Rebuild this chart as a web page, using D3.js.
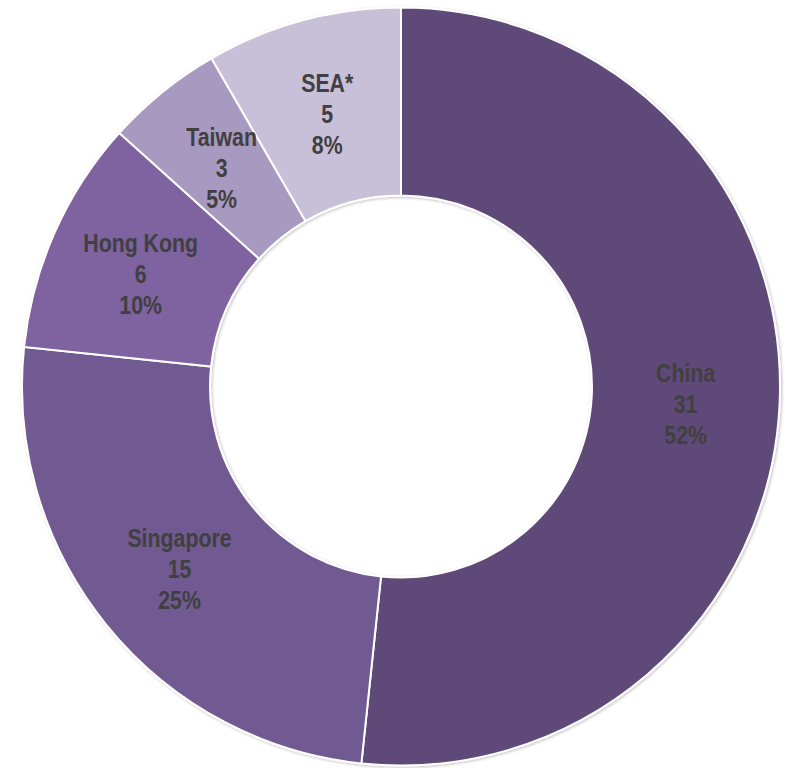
<!DOCTYPE html>
<html>
<head>
<meta charset="utf-8">
<script src="https://cdn.jsdelivr.net/npm/d3@7"></script>
<style>
  body { margin: 0; background: #fff; }
  svg text { font-family: "Liberation Sans", Arial, sans-serif; font-weight: bold; fill: #404040; }
</style>
</head>
<body>
<script>
var categories = ["China", "Singapore", "Hong Kong", "Taiwan", "SEA*"];
var values = [31, 15, 6, 3, 5];
var percents = ["52%", "25%", "10%", "5%", "8%"];
var colors = ["#5e4a78", "#715a92", "#7f62a0", "#a899c0", "#c8bfd8"];

var width = 785;
var height = 768;
var cx = 401, cy = 386.5;
var outerR = 379, innerR = 191;

var svg = d3.select("body").append("svg")
  .attr("width", width)
  .attr("height", height);

// faint shadow round the ring edges
var defs = svg.append("defs");
defs.append("filter")
    .attr("id", "shade")
    .attr("x", "-5%").attr("y", "-5%")
    .attr("width", "110%").attr("height", "110%")
  .append("feDropShadow")
    .attr("dx", 1).attr("dy", 1)
    .attr("stdDeviation", 1.5)
    .attr("flood-color", "#000")
    .attr("flood-opacity", 0.25);

var data = categories.map(function(c, i) {
  return { name: c, value: values[i], pct: percents[i], color: colors[i] };
});

var pie = d3.pie()
  .sort(null)
  .value(function(d) { return d.value; });

var arc = d3.arc()
  .innerRadius(innerR)
  .outerRadius(outerR);

var g = svg.append("g")
  .attr("transform", "translate(" + cx + "," + cy + ")");

var slices = g.append("g")
    .attr("filter", "url(#shade)")
  .selectAll("path")
  .data(pie(data))
  .enter().append("path")
    .attr("d", arc)
    .attr("fill", function(d) { return d.data.color; })
    .attr("stroke", "#fff")
    .attr("stroke-width", 2);

var label = g.append("g").selectAll("text")
  .data(pie(data))
  .enter().append("text")
    .attr("text-anchor", "middle")
    .attr("font-size", 26)
    .attr("transform", function(d) {
      var c = arc.centroid(d);
      return "translate(" + c[0] + "," + (c[1] + 12) + ") scale(0.82,1)";
    });

label.append("tspan").attr("x", 0).attr("dy", -31)
  .text(function(d) { return d.data.name; });
label.append("tspan").attr("x", 0).attr("dy", 31)
  .text(function(d) { return d.data.value; });
label.append("tspan").attr("x", 0).attr("dy", 31)
  .text(function(d) { return d.data.pct; });
</script>
</body>
</html>
